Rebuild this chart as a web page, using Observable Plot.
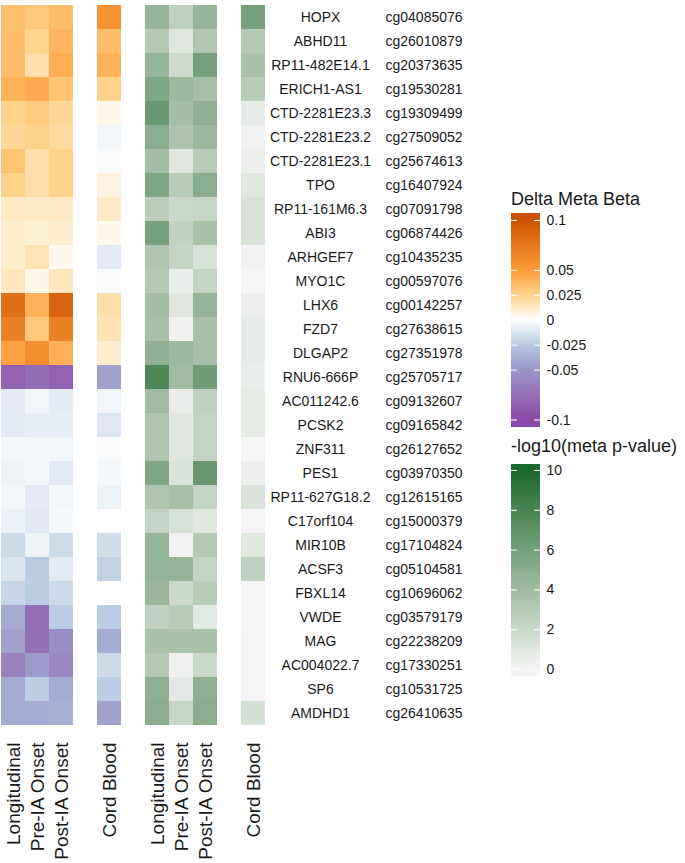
<!DOCTYPE html>
<html>
<head>
<meta charset="utf-8">
<script src="https://cdn.jsdelivr.net/npm/d3@7"></script>
<script src="https://cdn.jsdelivr.net/npm/@observablehq/plot@0.6"></script>
<style>
  html, body { margin: 0; padding: 0; background: #fff; }
  #root { position: relative; width: 685px; height: 863px; font-family: "Liberation Sans", Arial, sans-serif; color: #1a1a1a; }
  #root > * { position: absolute; }
  .ltitle { font-size: 18px; line-height: 18px; white-space: nowrap; }
</style>
</head>
<body>
<div id="root"></div>
<script>
// ---------- data ----------
const genes = ["HOPX","ABHD11","RP11-482E14.1","ERICH1-AS1","CTD-2281E23.3","CTD-2281E23.2","CTD-2281E23.1","TPO","RP11-161M6.3","ABI3","ARHGEF7","MYO1C","LHX6","FZD7","DLGAP2","RNU6-666P","AC011242.6","PCSK2","ZNF311","PES1","RP11-627G18.2","C17orf104","MIR10B","ACSF3","FBXL14","VWDE","MAG","AC004022.7","SP6","AMDHD1"];
const cgIds = ["cg04085076","cg26010879","cg20373635","cg19530281","cg19309499","cg27509052","cg25674613","cg16407924","cg07091798","cg06874426","cg10435235","cg00597076","cg00142257","cg27638615","cg27351978","cg25705717","cg09132607","cg09165842","cg26127652","cg03970350","cg12615165","cg15000379","cg17104824","cg05104581","cg10696062","cg03579179","cg22238209","cg17330251","cg10531725","cg26410635"];
const columnLabels = ["Longitudinal","Pre-IA Onset","Post-IA Onset","Cord Blood"];

// Delta meta beta
const deltaLong = [0.034,0.035,0.035,0.040,0.025,0.023,0.032,0.025,0.012,0.010,0.010,0.014,0.080,0.068,0.047,-0.085,-0.010,-0.010,-0.004,-0.006,-0.004,-0.007,-0.018,-0.013,-0.020,-0.040,-0.045,-0.064,-0.040,-0.040];
const deltaPre  = [0.030,0.024,0.018,0.043,0.028,0.025,0.018,0.018,0.012,0.009,0.016,0.005,0.040,0.030,0.060,-0.077,-0.005,-0.008,-0.004,-0.004,-0.010,-0.011,-0.006,-0.025,-0.025,-0.075,-0.075,-0.048,-0.024,-0.040];
const deltaPost = [0.035,0.038,0.042,0.032,0.022,0.020,0.025,0.025,0.012,0.010,0.004,0.014,0.088,0.068,0.040,-0.085,-0.009,-0.008,-0.004,-0.010,-0.004,-0.003,-0.017,-0.010,-0.018,-0.024,-0.055,-0.060,-0.040,-0.038];
const deltaCord = [0.055,0.035,0.040,0.025,0.004,-0.004,-0.002,0.007,0.012,0.004,-0.010,-0.002,0.018,0.016,0.010,-0.045,-0.005,-0.012,-0.002,-0.003,-0.006,0.000,-0.016,-0.022,0.000,-0.024,-0.040,-0.018,-0.024,-0.045];

// -log10(meta p-value)
const pLong = [4.5,3.0,4.5,5.5,6.5,5.0,3.8,5.5,2.7,6.0,3.3,3.0,3.8,3.6,4.7,7.8,4.0,3.3,3.3,5.5,3.3,2.3,4.5,4.5,4.3,2.5,3.5,3.0,4.8,5.0];
const pPre  = [2.5,1.0,1.8,4.2,3.8,3.4,1.0,2.8,2.0,2.4,2.3,0.5,1.0,0.3,4.2,4.0,0.5,1.0,1.0,1.2,3.6,1.4,0.2,4.5,2.0,2.8,3.5,0.3,0.8,2.2];
const pPost = [4.5,3.2,6.0,3.7,4.8,4.2,2.8,5.0,2.2,3.5,1.4,2.3,4.5,3.6,3.6,6.2,2.5,2.3,2.3,6.6,2.3,1.0,3.0,2.3,2.8,0.8,3.5,2.0,4.8,5.0];
const pCord = [6.0,3.0,3.5,2.8,0.6,0.2,0.4,1.0,1.3,1.3,0.2,0.0,0.4,0.6,0.6,0.5,0.7,0.7,0.0,0.4,1.2,0.0,1.0,2.5,0.0,0.0,0.1,0.1,0.1,1.5];

const deltaTicks = [0.1,0.05,0.025,0,-0.025,-0.05,-0.1];
const pTicks = [0,2,4,6,8,10];

// ---------- scales ----------
const slots = ["L1","P1","Q1","g1","C1","g2","L2","P2","Q2","g3","C2"];
const slotLabel = {L1:"Longitudinal",P1:"Pre-IA Onset",Q1:"Post-IA Onset",C1:"Cord Blood",L2:"Longitudinal",P2:"Pre-IA Onset",Q2:"Post-IA Onset",C2:"Cord Blood"};
const deltaColor = {
  type: "linear",
  domain: [-0.1, -0.05, -0.025, 0, 0.025, 0.05, 0.1],
  range: ["#8c48a8", "#9a96c8", "#b8cce2", "#ffffff", "#fed28a", "#fd9a38", "#cc5200"],
  interpolate: "lab",
  clamp: true
};
const pColor = {
  type: "linear",
  domain: [0, 10],
  range: ["#f5f5f5", "#18692e"],
  interpolate: "lab",
  clamp: true
};

const deltaCells = [];
const pCells = [];
genes.forEach((g, i) => {
  deltaCells.push({gene: g, col: "L1", v: deltaLong[i]});
  deltaCells.push({gene: g, col: "P1", v: deltaPre[i]});
  deltaCells.push({gene: g, col: "Q1", v: deltaPost[i]});
  deltaCells.push({gene: g, col: "C1", v: deltaCord[i]});
  pCells.push({gene: g, col: "L2", v: pLong[i]});
  pCells.push({gene: g, col: "P2", v: pPre[i]});
  pCells.push({gene: g, col: "Q2", v: pPost[i]});
  pCells.push({gene: g, col: "C2", v: pCord[i]});
});
const rows = genes.map((g, i) => ({gene: g, cg: cgIds[i]}));

const font = '"Liberation Sans", Arial, sans-serif';
const common = {
  width: 685, height: 863,
  marginLeft: 1, marginRight: 420, marginTop: 2, marginBottom: 136,
  x: {type: "band", domain: slots, padding: 0, axis: null},
  y: {type: "band", domain: genes, padding: 0, axis: null},
  style: {background: "transparent", fontFamily: font, overflow: "visible"}
};

const plotA = Plot.plot({
  ...common,
  color: deltaColor,
  marks: [
    Plot.cell(deltaCells, {x: "col", y: "gene", fill: "v", inset: 0}),
    Plot.axisX({
      ticks: ["L1","P1","Q1","C1","L2","P2","Q2","C2"],
      tickFormat: d => slotLabel[d],
      tickSize: 0, tickRotate: -90, textAnchor: "end",
      tickPadding: 15, fontSize: 19, label: null, fill: "#1a1a1a"
    })
  ]
});

const plotB = Plot.plot({
  ...common,
  color: pColor,
  marks: [
    Plot.cell(pCells, {x: "col", y: "gene", fill: "v", inset: 0}),
    Plot.text(rows, {y: "gene", text: "gene", frameAnchor: "right", dx: 55, textAnchor: "middle", fontSize: 14, fill: "#1a1a1a"}),
    Plot.text(rows, {y: "gene", text: "cg", frameAnchor: "right", dx: 120, textAnchor: "start", fontSize: 14, fill: "#1a1a1a"})
  ]
});

function legendBar(colorOpts, lo, hi, step, ticks, h) {
  const ramp = d3.range(lo, hi, step);
  return Plot.plot({
    width: 100, height: h,
    marginLeft: 0, marginRight: 71, marginTop: 0, marginBottom: 0,
    x: {domain: [0, 1], axis: null},
    y: {domain: [lo, hi]},
    color: colorOpts,
    style: {background: "transparent", fontFamily: font, overflow: "visible"},
    marks: [
      Plot.rect(ramp, {x1: 0, x2: 1, y1: d => d, y2: d => d + step * 1.6, fill: d => d + step / 2, shapeRendering: "crispEdges"}),
      Plot.ruleY(ticks, {x1: 0, x2: 0.2, stroke: "white", strokeWidth: 1.1}),
      Plot.ruleY(ticks, {x1: 0.8, x2: 1, stroke: "white", strokeWidth: 1.1}),
      Plot.axisY({ticks, anchor: "right", tickSize: 0, tickPadding: 6, tickFormat: d => String(d), fontSize: 14, label: null, fill: "#1a1a1a"})
    ]
  });
}

const legD = legendBar(deltaColor, -0.1075, 0.106, 0.001, deltaTicks, 213);
const legP = legendBar(pColor, -0.35, 10.25, 0.05, pTicks, 211);

const root = document.getElementById("root");
plotA.style.left = "0px"; plotA.style.top = "0px";
plotB.style.left = "0px"; plotB.style.top = "0px";
root.appendChild(plotA);
root.appendChild(plotB);

const t1 = document.createElement("div");
t1.className = "ltitle"; t1.textContent = "Delta Meta Beta";
t1.style.left = "511px"; t1.style.top = "190px";
root.appendChild(t1);
legD.style.left = "511px"; legD.style.top = "214px";
root.appendChild(legD);

const t2 = document.createElement("div");
t2.className = "ltitle"; t2.textContent = "-log10(meta p-value)";
t2.style.left = "511px"; t2.style.top = "437px";
root.appendChild(t2);
legP.style.left = "511px"; legP.style.top = "465px";
root.appendChild(legP);
</script>
</body>
</html>
